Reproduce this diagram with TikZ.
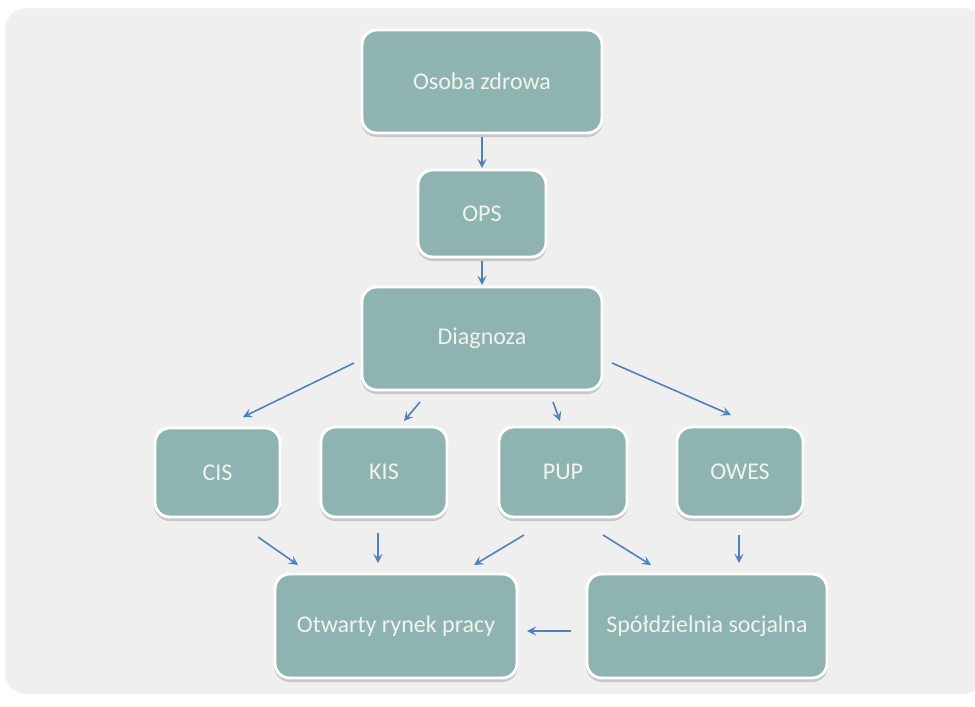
\documentclass[tikz,border=0pt]{standalone}
\usepackage{fontspec}
\setmainfont{Carlito}
\usetikzlibrary{arrows.meta}
\definecolor{bgc}{HTML}{EFEFEF}
\definecolor{boxc}{HTML}{8FB3B1}
\definecolor{arrc}{HTML}{4F81BD}
\definecolor{txtc}{HTML}{F0F4EE}
\tikzset{
  box/.style={draw=white, line width=2.2pt, fill=boxc, rounded corners=11pt,
    text=txtc, font=\fontsize{18}{21}\selectfont, inner sep=0pt,
    align=center},
  shad/.style={fill=black!22, rounded corners=12pt},
  conn/.style={draw=arrc, line width=1.2pt, -{Stealth[length=7pt,width=7pt,inset=3pt]}}
}
\begin{document}
\begin{tikzpicture}[x=0.75pt,y=-0.75pt]
\useasboundingbox (0,0) rectangle (975,707);
\fill[white] (0,0) rectangle (975,707);
\fill[black!6, rounded corners=16pt] (5,8) rectangle (985,694);
\fill[bgc, rounded corners=14pt] (8,11) rectangle (985,691);
% shadows
\foreach \xa/\ya/\xb/\yb in {362/30/602/133, 418/170/546/257, 362/287/602/390,
  155/428/280/517, 321/427/447/517, 499/427/627/517, 677/427/803/517,
  275/574/517/678, 587/574/827/678}{
  \fill[shad] (\xa-1,\ya+3) rectangle (\xb+1,\yb+4);
}
\node[box, minimum width=240*0.75pt, minimum height=103*0.75pt] (osoba) at (482,81.5) {Osoba zdrowa};
\node[box, minimum width=128*0.75pt, minimum height=87*0.75pt] (ops) at (482,213.5) {OPS};
\node[box, minimum width=240*0.75pt, minimum height=103*0.75pt] (diag) at (482,338.5) {Diagnoza};
\node[box, minimum width=125*0.75pt, minimum height=89*0.75pt] (cis) at (217.5,472.5) {CIS};
\node[box, minimum width=126*0.75pt, minimum height=90*0.75pt] (kis) at (384,472) {KIS};
\node[box, minimum width=128*0.75pt, minimum height=90*0.75pt] (pup) at (563,472) {PUP};
\node[box, minimum width=126*0.75pt, minimum height=90*0.75pt] (owes) at (740,472) {OWES};
\node[box, minimum width=242*0.75pt, minimum height=104*0.75pt] (orp) at (396,626) {Otwarty rynek pracy};
\node[box, minimum width=240*0.75pt, minimum height=104*0.75pt] (ss) at (707,626) {Spółdzielnia socjalna};
% arrow endpoints
\coordinate (a1) at (482,137); \coordinate (b1) at (482,168);
\coordinate (a2) at (482,261); \coordinate (b2) at (482,285);
\coordinate (a3) at (354,363); \coordinate (b3) at (243,417);
\coordinate (a4) at (420,402); \coordinate (b4) at (404,421);
\coordinate (a5) at (553,402); \coordinate (b5) at (560,421);
\coordinate (a6) at (612,363); \coordinate (b6) at (731,415);
\coordinate (a7) at (258,537); \coordinate (b7) at (298,565);
\coordinate (a8) at (378,533); \coordinate (b8) at (378,563);
\coordinate (a9) at (524,535); \coordinate (b9) at (474,565);
\coordinate (a10) at (603,535); \coordinate (b10) at (651,565);
\coordinate (a11) at (739,535); \coordinate (b11) at (739,563);
\coordinate (a12) at (571,631); \coordinate (b12) at (527,631);
\foreach \i in {1,...,12}{ \draw[conn] (a\i) -- (b\i); }
\end{tikzpicture}
\end{document}
